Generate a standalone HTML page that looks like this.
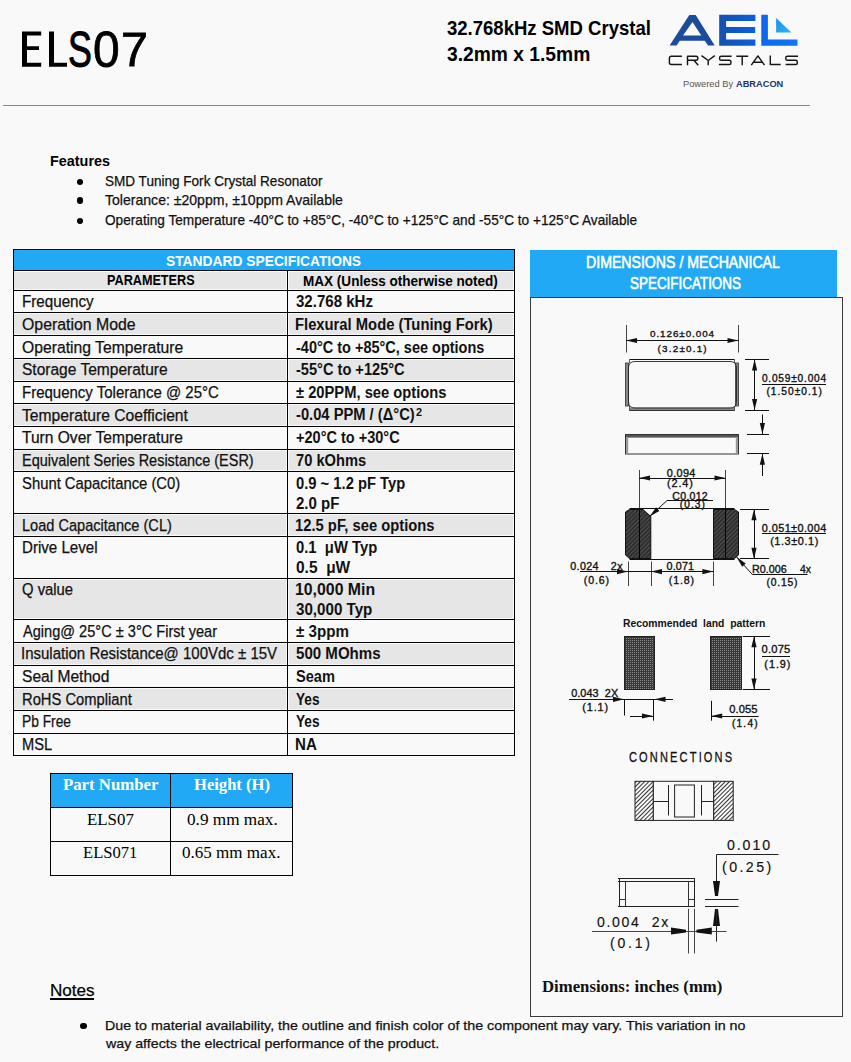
<!DOCTYPE html>
<html><head><meta charset="utf-8"><style>
html,body{margin:0;padding:0;}
body{width:851px;height:1062px;background:#f9f9f9;position:relative;overflow:hidden;font-family:"Liberation Sans", sans-serif;color:#000;}
.t{position:absolute;white-space:pre;transform-origin:0 0;}
.r{position:absolute;}
</style></head><body>
<svg class="r" style="left:0;top:0" width="160" height="80"><path d="M22,31.6 H41.2 V35.5 H27 V46.3 H39 V50.1 H27 V62.8 H41.2 V66.7 H22 Z M49,31.4 H54 V62.8 H67 V66.7 H49 Z" fill="#000"/></svg>
<div class="t" style="left:68.09px;top:24.55px;font-size:50.14px;line-height:50.14px;transform:scaleX(0.7145);-webkit-text-stroke:1.0px #000;">S</div>
<div class="t" style="left:93.08px;top:24.75px;font-size:50.14px;line-height:50.14px;transform:scaleX(0.9556);-webkit-text-stroke:0.8px #000;">0</div>
<div class="t" style="left:120.77px;top:24.58px;font-size:48.70px;line-height:48.70px;transform:scaleX(0.9974);-webkit-text-stroke:0.8px #000;">7</div>
<div class="t" style="left:447.14px;top:17.95px;font-size:20.14px;line-height:20.14px;font-weight:bold;transform:scaleX(0.9205);">32.768kHz SMD Crystal</div>
<div class="t" style="left:447.12px;top:44.05px;font-size:20.14px;line-height:20.14px;font-weight:bold;transform:scaleX(0.9557);">3.2mm x 1.5mm</div>
<div class="r" style="left:3px;top:105px;width:807px;height:1.4px;background:#1ea6f4;"></div>
<svg class="r" style="left:0;top:0" width="851" height="100"><path d="M681.9,56.2 H671.4 Q669.4,56.2 669.4,58.2 V62.5 Q669.4,64.5 671.4,64.5 H681.9 M687.5,65.2 V56.2 H696 Q697.8,56.2 697.8,58 V58.5 Q697.8,60.3 696,60.3 H687.5 M693.8,60.3 L698.3,65.2 M701.5,55.6 L708.2,60.5 L714.8,55.6 M708.2,60.5 V65.2 M731.6,56.2 H721.2 Q719.6,56.2 719.6,57.8 V58.7 Q719.6,60.3 721.2,60.3 H729.3 Q730.9,60.3 730.9,61.9 V62.9 Q730.9,64.5 729.3,64.5 H718.9 M736.3,56.2 H748.2 M742.2,56.2 V65.2 M751.3,65.2 L757.9,55.9 L764.5,65.2 M753.6,62.2 H762.2 M770.3,55.5 V64.5 H780.7 M798,56.2 H787.4 Q785.8,56.2 785.8,57.8 V58.7 Q785.8,60.3 787.4,60.3 H795.7 Q797.3,60.3 797.3,61.9 V62.9 Q797.3,64.5 795.7,64.5 H785.6" fill="none" stroke="#161616" stroke-width="1.45" stroke-linejoin="round"/></svg>
<div class="t" style="left:683.16px;top:79.52px;font-size:8.84px;line-height:8.84px;color:#555;transform:scaleX(1.0523);">Powered By</div>
<div class="t" style="left:736.37px;top:79.52px;font-size:8.84px;line-height:8.84px;font-weight:bold;color:#1e3466;transform:scaleX(1.0478);">ABRACON</div>
<div class="t" style="left:49.76px;top:153.68px;font-size:14.20px;line-height:14.20px;font-weight:bold;transform:scaleX(1.0145);">Features</div>
<div class="r" style="left:77.3px;top:178.6px;width:6.2px;height:6.2px;border-radius:50%;background:#000"></div>
<div class="r" style="left:77.3px;top:197.4px;width:6.2px;height:6.2px;border-radius:50%;background:#000"></div>
<div class="r" style="left:77.3px;top:217.7px;width:6.2px;height:6.2px;border-radius:50%;background:#000"></div>
<div class="t" style="left:104.79px;top:174.28px;font-size:14.20px;line-height:14.20px;color:#111;transform:scaleX(0.9549);-webkit-text-stroke:0.25px #111;">SMD Tuning Fork Crystal Resonator</div>
<div class="t" style="left:105.12px;top:193.08px;font-size:14.20px;line-height:14.20px;color:#111;transform:scaleX(0.9909);-webkit-text-stroke:0.25px #111;">Tolerance: ±20ppm, ±10ppm Available</div>
<div class="t" style="left:104.79px;top:212.58px;font-size:14.20px;line-height:14.20px;color:#111;transform:scaleX(0.9611);-webkit-text-stroke:0.25px #111;">Operating Temperature -40°C to +85°C, -40°C to +125°C and -55°C to +125°C Available</div>
<div class="r" style="left:13px;top:249px;width:502px;height:21px;background:#21a9f5;"></div>
<div class="r" style="left:14px;top:272px;width:272px;height:17px;background:#e6e6e6;"></div>
<div class="r" style="left:289px;top:272px;width:224px;height:17px;background:#e6e6e6;"></div>
<div class="r" style="left:14px;top:314px;width:272px;height:20px;background:#e6e6e6;"></div>
<div class="r" style="left:289px;top:314px;width:224px;height:20px;background:#e6e6e6;"></div>
<div class="r" style="left:14px;top:360px;width:272px;height:20px;background:#e6e6e6;"></div>
<div class="r" style="left:289px;top:360px;width:224px;height:20px;background:#e6e6e6;"></div>
<div class="r" style="left:14px;top:405px;width:272px;height:20px;background:#e6e6e6;"></div>
<div class="r" style="left:289px;top:405px;width:224px;height:20px;background:#e6e6e6;"></div>
<div class="r" style="left:14px;top:451px;width:272px;height:19px;background:#e6e6e6;"></div>
<div class="r" style="left:289px;top:451px;width:224px;height:19px;background:#e6e6e6;"></div>
<div class="r" style="left:14px;top:515px;width:272px;height:20px;background:#e6e6e6;"></div>
<div class="r" style="left:289px;top:515px;width:224px;height:20px;background:#e6e6e6;"></div>
<div class="r" style="left:14px;top:580px;width:272px;height:38px;background:#e6e6e6;"></div>
<div class="r" style="left:289px;top:580px;width:224px;height:38px;background:#e6e6e6;"></div>
<div class="r" style="left:14px;top:644px;width:272px;height:20px;background:#e6e6e6;"></div>
<div class="r" style="left:289px;top:644px;width:224px;height:20px;background:#e6e6e6;"></div>
<div class="r" style="left:14px;top:689px;width:272px;height:20px;background:#e6e6e6;"></div>
<div class="r" style="left:289px;top:689px;width:224px;height:20px;background:#e6e6e6;"></div>
<div class="r" style="left:13px;top:249px;width:502px;height:1px;background:#000;"></div>
<div class="r" style="left:13px;top:270px;width:502px;height:1px;background:#000;"></div>
<div class="r" style="left:13px;top:290px;width:502px;height:1px;background:#000;"></div>
<div class="r" style="left:13px;top:312px;width:502px;height:1px;background:#000;"></div>
<div class="r" style="left:13px;top:335px;width:502px;height:1px;background:#000;"></div>
<div class="r" style="left:13px;top:358px;width:502px;height:1px;background:#000;"></div>
<div class="r" style="left:13px;top:381px;width:502px;height:1px;background:#000;"></div>
<div class="r" style="left:13px;top:403px;width:502px;height:1px;background:#000;"></div>
<div class="r" style="left:13px;top:426px;width:502px;height:1px;background:#000;"></div>
<div class="r" style="left:13px;top:449px;width:502px;height:1px;background:#000;"></div>
<div class="r" style="left:13px;top:471px;width:502px;height:1px;background:#000;"></div>
<div class="r" style="left:13px;top:513px;width:502px;height:1px;background:#000;"></div>
<div class="r" style="left:13px;top:536px;width:502px;height:1px;background:#000;"></div>
<div class="r" style="left:13px;top:578px;width:502px;height:1px;background:#000;"></div>
<div class="r" style="left:13px;top:619px;width:502px;height:1px;background:#000;"></div>
<div class="r" style="left:13px;top:642px;width:502px;height:1px;background:#000;"></div>
<div class="r" style="left:13px;top:665px;width:502px;height:1px;background:#000;"></div>
<div class="r" style="left:13px;top:687px;width:502px;height:1px;background:#000;"></div>
<div class="r" style="left:13px;top:710px;width:502px;height:1px;background:#000;"></div>
<div class="r" style="left:13px;top:733px;width:502px;height:1px;background:#000;"></div>
<div class="r" style="left:13px;top:755px;width:502px;height:1px;background:#000;"></div>
<div class="r" style="left:13px;top:249px;width:1px;height:507px;background:#000;"></div>
<div class="r" style="left:514px;top:249px;width:1px;height:507px;background:#000;"></div>
<div class="r" style="left:287px;top:270px;width:1px;height:486px;background:#000;"></div>
<div class="t" style="left:165.79px;top:252.80px;font-size:15.36px;line-height:15.36px;font-weight:bold;color:#fff;transform:scaleX(0.8988);">STANDARD SPECIFICATIONS</div>
<div class="t" style="left:106.78px;top:273.49px;font-size:14.78px;line-height:14.78px;font-weight:bold;transform:scaleX(0.8564);">PARAMETERS</div>
<div class="t" style="left:303.32px;top:273.99px;font-size:14.78px;line-height:14.78px;font-weight:bold;transform:scaleX(0.9171);">MAX (Unless otherwise noted)</div>
<div class="t" style="left:21.59px;top:294.11px;font-size:15.94px;line-height:15.94px;color:#111;transform:scaleX(0.9521);-webkit-text-stroke:0.25px #111;">Frequency</div>
<div class="t" style="left:22.09px;top:316.71px;font-size:15.94px;line-height:15.94px;color:#111;transform:scaleX(0.9941);-webkit-text-stroke:0.25px #111;">Operation Mode</div>
<div class="t" style="left:22.09px;top:339.51px;font-size:15.94px;line-height:15.94px;color:#111;transform:scaleX(0.9858);-webkit-text-stroke:0.25px #111;">Operating Temperature</div>
<div class="t" style="left:22.10px;top:361.51px;font-size:15.94px;line-height:15.94px;color:#111;transform:scaleX(0.9742);-webkit-text-stroke:0.25px #111;">Storage Temperature</div>
<div class="t" style="left:21.60px;top:384.51px;font-size:15.94px;line-height:15.94px;color:#111;transform:scaleX(0.9412);-webkit-text-stroke:0.25px #111;">Frequency Tolerance @ 25°C</div>
<div class="t" style="left:22.49px;top:407.51px;font-size:15.94px;line-height:15.94px;color:#111;transform:scaleX(0.9822);-webkit-text-stroke:0.25px #111;">Temperature Coefficient</div>
<div class="t" style="left:22.49px;top:429.71px;font-size:15.94px;line-height:15.94px;color:#111;transform:scaleX(0.9766);-webkit-text-stroke:0.25px #111;">Turn Over Temperature</div>
<div class="t" style="left:21.64px;top:452.71px;font-size:15.94px;line-height:15.94px;color:#111;transform:scaleX(0.9082);-webkit-text-stroke:0.25px #111;">Equivalent Series Resistance (ESR)</div>
<div class="t" style="left:22.13px;top:475.51px;font-size:15.94px;line-height:15.94px;color:#111;transform:scaleX(0.9304);-webkit-text-stroke:0.25px #111;">Shunt Capacitance (C0)</div>
<div class="t" style="left:21.63px;top:517.51px;font-size:15.94px;line-height:15.94px;color:#111;transform:scaleX(0.9143);-webkit-text-stroke:0.25px #111;">Load Capacitance (CL)</div>
<div class="t" style="left:21.59px;top:539.71px;font-size:15.94px;line-height:15.94px;color:#111;transform:scaleX(0.9483);-webkit-text-stroke:0.25px #111;">Drive Level</div>
<div class="t" style="left:22.13px;top:581.71px;font-size:15.94px;line-height:15.94px;color:#111;transform:scaleX(0.9292);-webkit-text-stroke:0.25px #111;">Q value</div>
<div class="t" style="left:22.80px;top:623.71px;font-size:15.94px;line-height:15.94px;color:#111;transform:scaleX(0.9144);-webkit-text-stroke:0.25px #111;">Aging@ 25°C ± 3°C First year</div>
<div class="t" style="left:21.45px;top:646.21px;font-size:15.94px;line-height:15.94px;color:#111;transform:scaleX(0.9412);-webkit-text-stroke:0.25px #111;">Insulation Resistance@ 100Vdc ± 15V</div>
<div class="t" style="left:22.10px;top:668.71px;font-size:15.94px;line-height:15.94px;color:#111;transform:scaleX(0.9765);-webkit-text-stroke:0.25px #111;">Seal Method</div>
<div class="t" style="left:21.62px;top:691.71px;font-size:15.94px;line-height:15.94px;color:#111;transform:scaleX(0.9247);-webkit-text-stroke:0.25px #111;">RoHS Compliant</div>
<div class="t" style="left:21.70px;top:713.71px;font-size:15.94px;line-height:15.94px;color:#111;transform:scaleX(0.8632);-webkit-text-stroke:0.25px #111;">Pb Free</div>
<div class="t" style="left:21.63px;top:736.81px;font-size:15.94px;line-height:15.94px;color:#111;transform:scaleX(0.9191);-webkit-text-stroke:0.25px #111;">MSL</div>
<div class="t" style="left:295.92px;top:294.11px;font-size:15.94px;line-height:15.94px;font-weight:bold;color:#111;transform:scaleX(0.9443);">32.768 kHz</div>
<div class="t" style="left:295.34px;top:316.71px;font-size:15.94px;line-height:15.94px;font-weight:bold;color:#111;transform:scaleX(0.9275);">Flexural Mode (Tuning Fork)</div>
<div class="t" style="left:295.72px;top:339.51px;font-size:15.94px;line-height:15.94px;font-weight:bold;color:#111;transform:scaleX(0.9092);">-40°C to +85°C, see options</div>
<div class="t" style="left:295.72px;top:361.51px;font-size:15.94px;line-height:15.94px;font-weight:bold;color:#111;transform:scaleX(0.9160);">-55°C to +125°C</div>
<div class="t" style="left:295.93px;top:384.51px;font-size:15.94px;line-height:15.94px;font-weight:bold;color:#111;transform:scaleX(0.9239);">± 20PPM, see options</div>
<div class="t" style="left:295.71px;top:407.11px;font-size:15.94px;line-height:15.94px;font-weight:bold;color:#111;transform:scaleX(0.9234);">-0.04 PPM / (Δ°C)</div>
<div class="t" style="left:295.72px;top:429.71px;font-size:15.94px;line-height:15.94px;font-weight:bold;color:#111;transform:scaleX(0.9112);">+20°C to +30°C</div>
<div class="t" style="left:295.71px;top:452.71px;font-size:15.94px;line-height:15.94px;font-weight:bold;color:#111;transform:scaleX(0.9209);">70 kOhms</div>
<div class="t" style="left:295.71px;top:475.51px;font-size:15.94px;line-height:15.94px;font-weight:bold;color:#111;transform:scaleX(0.9263);">0.9 ~ 1.2 pF Typ</div>
<div class="t" style="left:295.77px;top:495.51px;font-size:15.94px;line-height:15.94px;font-weight:bold;color:#111;transform:scaleX(0.9431);">2.0 pF</div>
<div class="t" style="left:295.41px;top:517.51px;font-size:15.94px;line-height:15.94px;font-weight:bold;color:#111;transform:scaleX(0.9270);">12.5 pF, see options</div>
<div class="t" style="left:295.71px;top:539.71px;font-size:15.94px;line-height:15.94px;font-weight:bold;color:#111;transform:scaleX(0.9293);">0.1  μW Typ</div>
<div class="t" style="left:295.68px;top:560.01px;font-size:15.94px;line-height:15.94px;font-weight:bold;color:#111;transform:scaleX(0.9721);">0.5  μW</div>
<div class="t" style="left:295.35px;top:581.71px;font-size:15.94px;line-height:15.94px;font-weight:bold;color:#111;transform:scaleX(0.9940);">10,000 Min</div>
<div class="t" style="left:295.92px;top:601.71px;font-size:15.94px;line-height:15.94px;font-weight:bold;color:#111;transform:scaleX(0.9507);">30,000 Typ</div>
<div class="t" style="left:295.92px;top:623.71px;font-size:15.94px;line-height:15.94px;font-weight:bold;color:#111;transform:scaleX(0.9510);">± 3ppm</div>
<div class="t" style="left:295.85px;top:646.21px;font-size:15.94px;line-height:15.94px;font-weight:bold;color:#111;transform:scaleX(0.9454);">500 MOhms</div>
<div class="t" style="left:295.86px;top:668.71px;font-size:15.94px;line-height:15.94px;font-weight:bold;color:#111;transform:scaleX(0.9166);">Seam</div>
<div class="t" style="left:296.03px;top:691.71px;font-size:15.94px;line-height:15.94px;font-weight:bold;color:#111;transform:scaleX(0.8552);">Yes</div>
<div class="t" style="left:296.03px;top:713.71px;font-size:15.94px;line-height:15.94px;font-weight:bold;color:#111;transform:scaleX(0.8552);">Yes</div>
<div class="t" style="left:295.32px;top:736.81px;font-size:15.94px;line-height:15.94px;font-weight:bold;color:#111;transform:scaleX(0.9479);">NA</div>
<div class="t" style="left:415.62px;top:407.79px;font-size:10.29px;line-height:10.29px;font-weight:bold;color:#111;transform:scaleX(1.0528);">2</div>
<div class="r" style="left:50px;top:773px;width:243px;height:34px;background:#21a9f5;"></div>
<div class="r" style="left:50px;top:773px;width:243px;height:1px;background:#000;"></div>
<div class="r" style="left:50px;top:807px;width:243px;height:1px;background:#000;"></div>
<div class="r" style="left:50px;top:841px;width:243px;height:1px;background:#000;"></div>
<div class="r" style="left:50px;top:875px;width:243px;height:1px;background:#000;"></div>
<div class="r" style="left:50px;top:773px;width:1px;height:103px;background:#000;"></div>
<div class="r" style="left:292px;top:773px;width:1px;height:103px;background:#000;"></div>
<div class="r" style="left:170px;top:773px;width:1px;height:103px;background:#000;"></div>
<div class="t" style="left:63.15px;top:775.77px;font-size:17.71px;line-height:17.71px;font-weight:bold;font-family:'Liberation Serif', serif;color:#fff;transform:scaleX(0.9477);">Part Number</div>
<div class="t" style="left:193.65px;top:775.97px;font-size:17.71px;line-height:17.71px;font-weight:bold;font-family:'Liberation Serif', serif;color:#fff;transform:scaleX(0.9371);">Height (H)</div>
<div class="t" style="left:86.79px;top:810.52px;font-size:17.40px;line-height:17.40px;font-family:'Liberation Serif', serif;transform:scaleX(0.9696);">ELS07</div>
<div class="t" style="left:186.81px;top:810.52px;font-size:17.40px;line-height:17.40px;font-family:'Liberation Serif', serif;transform:scaleX(0.9880);">0.9 mm max.</div>
<div class="t" style="left:82.90px;top:844.32px;font-size:17.40px;line-height:17.40px;font-family:'Liberation Serif', serif;transform:scaleX(0.9546);">ELS071</div>
<div class="t" style="left:182.12px;top:844.32px;font-size:17.40px;line-height:17.40px;font-family:'Liberation Serif', serif;transform:scaleX(0.9799);">0.65 mm max.</div>
<div class="t" style="left:49.63px;top:981.64px;font-size:16.38px;line-height:16.38px;transform:scaleX(1.0450);-webkit-text-stroke:0.25px #111;">Notes</div>
<div class="r" style="left:50px;top:998px;width:44px;height:1.8px;background:#000;"></div>
<div class="r" style="left:80.4px;top:1022.5px;width:6.2px;height:6.2px;border-radius:50%;background:#000"></div>
<div class="t" style="left:104.76px;top:1019.27px;font-size:13.62px;line-height:13.62px;color:#111;transform:scaleX(1.0465);-webkit-text-stroke:0.25px #111;">Due to material availability, the outline and finish color of the component may vary. This variation in no</div>
<div class="t" style="left:105.90px;top:1037.07px;font-size:13.62px;line-height:13.62px;color:#111;transform:scaleX(1.0442);-webkit-text-stroke:0.25px #111;">way affects the electrical performance of the product.</div>
<div class="r" style="left:530px;top:250px;width:307px;height:47px;background:#21a9f5;"></div>
<div class="r" style="left:530px;top:296.5px;width:313px;height:720.5px;border:1.5px solid #3a3a3a;box-sizing:border-box;"></div>
<div class="t" style="left:586.27px;top:254.06px;font-size:16.23px;line-height:16.23px;color:#fff;transform:scaleX(0.8711);-webkit-text-stroke:0.6px #fff;">DIMENSIONS / MECHANICAL</div>
<div class="t" style="left:630.00px;top:276.11px;font-size:15.94px;line-height:15.94px;color:#fff;transform:scaleX(0.8430);-webkit-text-stroke:0.6px #fff;">SPECIFICATIONS</div>
<div class="t" style="left:542.35px;top:977.75px;font-size:17.25px;line-height:17.25px;font-weight:bold;font-family:'Liberation Serif', serif;color:#111;transform:scaleX(0.9700);">Dimensions: inches (mm)</div>
<div class="t" style="left:650.01px;top:329.46px;font-size:9.86px;line-height:9.86px;color:#111;letter-spacing:0.934px;-webkit-text-stroke:0.35px #111;">0.126±0.004</div>
<div class="t" style="left:657.61px;top:343.66px;font-size:9.86px;line-height:9.86px;color:#111;letter-spacing:1.208px;-webkit-text-stroke:0.35px #111;">(3.2±0.1)</div>
<div class="t" style="left:761.89px;top:373.81px;font-size:10.14px;line-height:10.14px;color:#111;letter-spacing:0.806px;-webkit-text-stroke:0.35px #111;">0.059±0.004</div>
<div class="t" style="left:766.39px;top:386.91px;font-size:10.14px;line-height:10.14px;color:#111;letter-spacing:1.051px;-webkit-text-stroke:0.35px #111;">(1.50±0.1)</div>
<div class="t" style="left:666.87px;top:467.70px;font-size:10.87px;line-height:10.87px;color:#111;letter-spacing:0.322px;-webkit-text-stroke:0.35px #111;">0.094</div>
<div class="t" style="left:667.05px;top:478.10px;font-size:10.87px;line-height:10.87px;color:#111;letter-spacing:0.867px;-webkit-text-stroke:0.35px #111;">(2.4)</div>
<div class="t" style="left:672.37px;top:491.04px;font-size:10.58px;line-height:10.58px;color:#111;letter-spacing:0.248px;-webkit-text-stroke:0.35px #111;">C0.012</div>
<div class="t" style="left:679.79px;top:500.31px;font-size:10.14px;line-height:10.14px;color:#111;letter-spacing:1.092px;-webkit-text-stroke:0.35px #111;">(0.3)</div>
<div class="t" style="left:761.87px;top:522.70px;font-size:10.87px;line-height:10.87px;color:#111;letter-spacing:0.408px;-webkit-text-stroke:0.35px #111;">0.051±0.004</div>
<div class="t" style="left:770.15px;top:536.10px;font-size:10.87px;line-height:10.87px;color:#111;letter-spacing:0.592px;-webkit-text-stroke:0.35px #111;">(1.3±0.1)</div>
<div class="t" style="left:570.27px;top:560.72px;font-size:10.72px;line-height:10.72px;color:#111;letter-spacing:0.360px;-webkit-text-stroke:0.35px #111;">0.024</div>
<div class="t" style="left:610.76px;top:560.72px;font-size:10.72px;line-height:10.72px;color:#111;letter-spacing:0.629px;-webkit-text-stroke:0.35px #111;">2x</div>
<div class="t" style="left:583.77px;top:574.54px;font-size:10.58px;line-height:10.58px;color:#111;letter-spacing:0.857px;-webkit-text-stroke:0.35px #111;">(0.6)</div>
<div class="t" style="left:666.57px;top:560.92px;font-size:10.72px;line-height:10.72px;color:#111;letter-spacing:0.150px;-webkit-text-stroke:0.35px #111;">0.071</div>
<div class="t" style="left:668.77px;top:574.54px;font-size:10.58px;line-height:10.58px;color:#111;letter-spacing:0.907px;-webkit-text-stroke:0.35px #111;">(1.8)</div>
<div class="t" style="left:751.64px;top:564.38px;font-size:11.01px;line-height:11.01px;color:#111;transform:scaleX(0.9795);-webkit-text-stroke:0.35px #111;">R0.006</div>
<div class="t" style="left:799.59px;top:564.38px;font-size:11.01px;line-height:11.01px;color:#111;transform:scaleX(0.9478);-webkit-text-stroke:0.35px #111;">4x</div>
<div class="t" style="left:766.38px;top:578.19px;font-size:10.29px;line-height:10.29px;color:#111;letter-spacing:0.836px;-webkit-text-stroke:0.35px #111;">(0.15)</div>
<div class="t" style="left:622.83px;top:618.19px;font-size:11.59px;line-height:11.59px;font-weight:bold;color:#111;transform:scaleX(0.8955);">Recommended  land  pattern</div>
<div class="t" style="left:761.55px;top:644.05px;font-size:11.16px;line-height:11.16px;color:#111;letter-spacing:0.199px;-webkit-text-stroke:0.35px #111;">0.075</div>
<div class="t" style="left:764.35px;top:658.80px;font-size:10.87px;line-height:10.87px;color:#111;letter-spacing:0.942px;-webkit-text-stroke:0.35px #111;">(1.9)</div>
<div class="t" style="left:571.17px;top:687.80px;font-size:10.87px;line-height:10.87px;color:#111;letter-spacing:0.066px;-webkit-text-stroke:0.35px #111;">0.043  2X</div>
<div class="t" style="left:582.35px;top:702.30px;font-size:10.87px;line-height:10.87px;color:#111;letter-spacing:0.842px;-webkit-text-stroke:0.35px #111;">(1.1)</div>
<div class="t" style="left:729.15px;top:704.25px;font-size:11.16px;line-height:11.16px;color:#111;letter-spacing:0.099px;-webkit-text-stroke:0.35px #111;">0.055</div>
<div class="t" style="left:731.99px;top:719.41px;font-size:10.14px;line-height:10.14px;color:#111;letter-spacing:1.192px;-webkit-text-stroke:0.35px #111;">(1.4)</div>
<div class="t" style="left:629.15px;top:748.60px;font-size:15.36px;line-height:15.36px;color:#111;letter-spacing:2.968px;transform:scaleX(0.7200);-webkit-text-stroke:0.3px #111;">CONNECTIONS</div>
<div class="t" style="left:727.43px;top:838.31px;font-size:14.64px;line-height:14.64px;color:#111;letter-spacing:1.951px;transform:scaleX(0.9700);-webkit-text-stroke:0.15px #111;">0.010</div>
<div class="t" style="left:721.65px;top:859.61px;font-size:14.64px;line-height:14.64px;color:#111;letter-spacing:2.504px;transform:scaleX(0.9700);-webkit-text-stroke:0.15px #111;">(0.25)</div>
<div class="t" style="left:597.44px;top:914.73px;font-size:14.49px;line-height:14.49px;color:#111;letter-spacing:1.721px;transform:scaleX(0.9700);-webkit-text-stroke:0.15px #111;">0.004  2x</div>
<div class="t" style="left:609.56px;top:936.23px;font-size:14.49px;line-height:14.49px;color:#111;letter-spacing:2.834px;transform:scaleX(0.9700);-webkit-text-stroke:0.15px #111;">(0.1)</div>
<svg class="r" style="left:0;top:0" width="851" height="1062" viewBox="0 0 851 1062"><defs>
<pattern id="hatch" patternUnits="userSpaceOnUse" width="3" height="3" patternTransform="rotate(-45)">
<rect width="3" height="3" fill="#2e2e2e"/><rect width="3" height="0.9" fill="#555"/></pattern>
<pattern id="hatch2" patternUnits="userSpaceOnUse" width="3" height="3" patternTransform="rotate(-45)">
<rect width="3" height="3" fill="#f9f9f9"/><rect width="3" height="1" fill="#333"/></pattern>
<pattern id="dots" patternUnits="userSpaceOnUse" width="2" height="2">
<rect width="2" height="2" fill="#383838"/><rect x="0" y="0" width="1" height="1" fill="#8a8a8a"/></pattern>
<linearGradient id="gE" x1="0" y1="0" x2="1" y2="0"><stop offset="0" stop-color="#1450b0"/><stop offset="1" stop-color="#0b5fdc"/></linearGradient>
<linearGradient id="gL" x1="0" y1="0" x2="1" y2="0"><stop offset="0" stop-color="#0a68ee"/><stop offset="1" stop-color="#1075f5"/></linearGradient>
<linearGradient id="gT" x1="0" y1="0" x2="1" y2="1"><stop offset="0" stop-color="#1c8fe8"/><stop offset="1" stop-color="#2db4f2"/></linearGradient>
</defs><line x1="626.5" y1="325" x2="626.5" y2="352.5" stroke="#444" stroke-width="1" />
<line x1="738.5" y1="325" x2="738.5" y2="352.5" stroke="#444" stroke-width="1" />
<line x1="626" y1="340.5" x2="738.5" y2="340.5" stroke="#111" stroke-width="1" />
<polygon points="626.0,340.5 637.0,337.9 637.0,343.1" fill="#111"/>
<polygon points="738.5,340.5 727.5,337.9 727.5,343.1" fill="#111"/>
<rect x="625.5" y="363" width="3" height="43" fill="#888" stroke="#333" stroke-width="0.8"/>
<rect x="735.6" y="363" width="3" height="43" fill="#888" stroke="#333" stroke-width="0.8"/>
<rect x="629.5" y="407.6" width="105" height="2.8" fill="#888"/>
<line x1="629.5" y1="359.5" x2="734.5" y2="359.5" stroke="#111" stroke-width="1" />
<line x1="629.5" y1="410.5" x2="734.5" y2="410.5" stroke="#333" stroke-width="1" />
<path d="M629.5,359.5 V363 M734.5,359.5 V363 M629.5,410.5 V406 M734.5,410.5 V406" fill="none" stroke="#333" stroke-width="0.8" />
<path d="M635,361.5 L730,361.5 Q736.5,361.5 736.5,368 L736.5,401.5 Q736.5,408 730,408 L635,408 Q628.5,408 628.5,401.5 L628.5,368 Q628.5,361.5 635,361.5 Z" fill="none" stroke="#222" stroke-width="0.9" />
<line x1="745" y1="359.5" x2="769" y2="359.5" stroke="#111" stroke-width="1" />
<line x1="745" y1="410.5" x2="769" y2="410.5" stroke="#111" stroke-width="1" />
<line x1="754.5" y1="359.5" x2="754.5" y2="410" stroke="#111" stroke-width="1" />
<polygon points="754.6,359.5 752.0,370.5 757.2,370.5" fill="#111"/>
<polygon points="754.6,410.0 752.0,399.0 757.2,399.0" fill="#111"/>
<line x1="762" y1="384.5" x2="826" y2="384.5" stroke="#111" stroke-width="1" />
<rect x="625.5" y="434.5" width="113" height="19.5" fill="none" stroke="#333" stroke-width="1"/>
<rect x="626" y="435" width="112" height="2.6" fill="#555"/>
<rect x="626" y="437.5" width="2.2" height="16" fill="#999"/>
<rect x="735.8" y="437.5" width="2.2" height="16" fill="#999"/>
<line x1="762.5" y1="414.5" x2="762.5" y2="434" stroke="#111" stroke-width="1" />
<polygon points="762.4,434.0 759.8,423.0 765.0,423.0" fill="#111"/>
<line x1="747" y1="434.5" x2="769" y2="434.5" stroke="#111" stroke-width="1" />
<line x1="747" y1="453.5" x2="769" y2="453.5" stroke="#111" stroke-width="1" />
<line x1="762.5" y1="453.7" x2="762.5" y2="476" stroke="#111" stroke-width="1" />
<polygon points="762.4,453.7 759.8,464.7 765.0,464.7" fill="#111"/>
<line x1="639.5" y1="470" x2="639.5" y2="509" stroke="#444" stroke-width="1" />
<line x1="725.5" y1="470" x2="725.5" y2="509" stroke="#444" stroke-width="1" />
<line x1="639" y1="478.5" x2="725.5" y2="478.5" stroke="#111" stroke-width="1" />
<polygon points="639.0,478.0 650.0,475.4 650.0,480.6" fill="#111"/>
<polygon points="725.5,478.0 714.5,475.4 714.5,480.6" fill="#111"/>
<line x1="629.5" y1="508.5" x2="734.5" y2="508.5" stroke="#111" stroke-width="1" />
<line x1="629.5" y1="559.5" x2="734.5" y2="559.5" stroke="#111" stroke-width="1" />
<path d="M625.5,512 L629.5,509.5 L643,509.5 L650.8,516.5 L650.8,558.5 L629.5,558.5 L625.5,555 Z" fill="url(#hatch)" stroke="#111" stroke-width="1" />
<path d="M713.5,509.5 L734.5,509.5 L738.5,512 L738.5,555 L734.5,558.5 L713.5,558.5 Z" fill="url(#hatch)" stroke="#111" stroke-width="1" />
<line x1="639.5" y1="509" x2="639.5" y2="558.5" stroke="#000" stroke-width="1" />
<line x1="725.5" y1="509" x2="725.5" y2="558.5" stroke="#000" stroke-width="1" />
<line x1="649.6" y1="516.5" x2="667" y2="500.6" stroke="#111" stroke-width="1" />
<line x1="667" y1="500.5" x2="713" y2="500.5" stroke="#111" stroke-width="1" />
<polygon points="649.6,516.5 659.3,510.9 656.1,507.3" fill="#111"/>
<line x1="740" y1="509.5" x2="769" y2="509.5" stroke="#111" stroke-width="1" />
<line x1="740" y1="558.5" x2="769" y2="558.5" stroke="#111" stroke-width="1" />
<line x1="754.5" y1="509.3" x2="754.5" y2="558.8" stroke="#111" stroke-width="1" />
<polygon points="754.0,509.3 751.4,520.3 756.6,520.3" fill="#111"/>
<polygon points="754.0,558.8 751.4,547.8 756.6,547.8" fill="#111"/>
<line x1="762" y1="533.5" x2="826" y2="533.5" stroke="#111" stroke-width="1" />
<line x1="628.5" y1="561.5" x2="628.5" y2="586" stroke="#444" stroke-width="1" />
<line x1="651.5" y1="561.5" x2="651.5" y2="586" stroke="#444" stroke-width="1" />
<line x1="713.5" y1="561.5" x2="713.5" y2="586" stroke="#444" stroke-width="1" />
<line x1="580" y1="571.5" x2="713.4" y2="571.5" stroke="#111" stroke-width="1" />
<polygon points="628.0,571.6 617.0,569.0 617.0,574.2" fill="#111"/>
<polygon points="651.0,571.6 662.0,569.0 662.0,574.2" fill="#111"/>
<polygon points="713.4,571.6 702.4,569.0 702.4,574.2" fill="#111"/>
<line x1="736.6" y1="557" x2="752.5" y2="574.7" stroke="#111" stroke-width="1" />
<line x1="752.5" y1="574.5" x2="807.5" y2="574.5" stroke="#111" stroke-width="1" />
<polygon points="736.6,557.0 742.2,566.8 745.7,563.6" fill="#111"/>
<rect x="624.5" y="636.5" width="30" height="53" fill="url(#dots)" stroke="#222" stroke-width="1"/>
<rect x="710.5" y="636.5" width="31" height="53" fill="url(#dots)" stroke="#222" stroke-width="1"/>
<line x1="742.7" y1="636.5" x2="770" y2="636.5" stroke="#111" stroke-width="1" />
<line x1="742.7" y1="689.5" x2="770" y2="689.5" stroke="#111" stroke-width="1" />
<line x1="754.5" y1="636.3" x2="754.5" y2="689.5" stroke="#111" stroke-width="1" />
<polygon points="754.0,636.3 751.4,647.3 756.6,647.3" fill="#111"/>
<polygon points="754.0,689.5 751.4,678.5 756.6,678.5" fill="#111"/>
<line x1="762" y1="656.5" x2="790" y2="656.5" stroke="#111" stroke-width="1" />
<line x1="569" y1="699.5" x2="673" y2="699.5" stroke="#111" stroke-width="1" />
<polygon points="624.0,699.3 613.0,696.7 613.0,701.9" fill="#111"/>
<polygon points="654.5,699.3 665.5,696.7 665.5,701.9" fill="#111"/>
<line x1="624.5" y1="699.3" x2="624.5" y2="715.5" stroke="#111" stroke-width="1" />
<line x1="653.5" y1="699.3" x2="653.5" y2="720.7" stroke="#111" stroke-width="1" />
<line x1="630" y1="716.5" x2="653" y2="716.5" stroke="#111" stroke-width="1" />
<polygon points="653.0,716.0 642.0,713.4 642.0,718.6" fill="#111"/>
<line x1="711.5" y1="700.8" x2="711.5" y2="720.7" stroke="#111" stroke-width="1" />
<line x1="711.2" y1="716.5" x2="758.6" y2="716.5" stroke="#111" stroke-width="1" />
<polygon points="711.2,716.0 722.2,713.4 722.2,718.6" fill="#111"/>
<rect x="653.2" y="781.3" width="60.5" height="39.1" fill="none" stroke="#222" stroke-width="1"/>
<rect x="635" y="781.3" width="18.2" height="39.1" fill="url(#hatch2)" stroke="#222" stroke-width="1"/>
<rect x="713.7" y="781.3" width="19.5" height="39.1" fill="url(#hatch2)" stroke="#222" stroke-width="1"/>
<line x1="653.2" y1="801.5" x2="668.5" y2="801.5" stroke="#222" stroke-width="1" />
<line x1="701" y1="801.5" x2="713.7" y2="801.5" stroke="#222" stroke-width="1" />
<line x1="668.5" y1="785" x2="668.5" y2="815.5" stroke="#222" stroke-width="1" />
<line x1="701.5" y1="785" x2="701.5" y2="815.5" stroke="#222" stroke-width="1" />
<rect x="674.6" y="785" width="19.8" height="32" fill="none" stroke="#222" stroke-width="1"/>
<line x1="618" y1="878.5" x2="695" y2="878.5" stroke="#222" stroke-width="1" />
<line x1="618" y1="881.5" x2="695" y2="881.5" stroke="#222" stroke-width="1" />
<line x1="618" y1="906.5" x2="695" y2="906.5" stroke="#222" stroke-width="1" />
<line x1="619.5" y1="878" x2="619.5" y2="906.5" stroke="#222" stroke-width="1" />
<line x1="694.5" y1="878" x2="694.5" y2="906.5" stroke="#222" stroke-width="1" />
<line x1="625.5" y1="881" x2="625.5" y2="906" stroke="#333" stroke-width="1" />
<line x1="688.5" y1="881" x2="688.5" y2="906" stroke="#333" stroke-width="1" />
<line x1="619" y1="899.5" x2="625" y2="899.5" stroke="#333" stroke-width="1" />
<line x1="688" y1="899.5" x2="694" y2="899.5" stroke="#333" stroke-width="1" />
<line x1="716.4" y1="854.5" x2="778.5" y2="854.5" stroke="#222" stroke-width="1" />
<line x1="716.5" y1="854.7" x2="716.5" y2="896" stroke="#222" stroke-width="1" />
<polygon points="713.0,881.0 720.0,881.0 718.0,896.0 715.0,896.0" fill="#111"/>
<line x1="705" y1="899.5" x2="738.5" y2="899.5" stroke="#222" stroke-width="1" />
<line x1="705" y1="906.5" x2="738.5" y2="906.5" stroke="#222" stroke-width="1" />
<polygon points="715.0,909.0 718.0,909.0 720.0,926.0 713.0,926.0" fill="#111"/>
<line x1="716.5" y1="909" x2="716.5" y2="941.5" stroke="#222" stroke-width="1" />
<line x1="592" y1="931.5" x2="726.5" y2="931.5" stroke="#444" stroke-width="1" />
<polygon points="671.0,927.6 671.0,934.6 686.0,932.4 686.0,929.8" fill="#111"/>
<polygon points="711.8,927.6 711.8,934.6 696.5,932.4 696.5,929.8" fill="#111"/>
<line x1="688.5" y1="908.7" x2="688.5" y2="953.5" stroke="#444" stroke-width="1" />
<line x1="694.5" y1="908.7" x2="694.5" y2="953.5" stroke="#444" stroke-width="1" /><path d="M669.6,45.6 L689.3,15.1 L695.7,15.1 L714.7,45.6 L708,45.6 L704.8,40.7 L679.8,40.7 L676.6,45.6 Z M692.5,22 L683,35.4 L701.3,35.4 Z" fill="#1d4b9c" fill-rule="evenodd"/>
<path d="M719.2,14.8 L755.4,14.8 L755.4,21.0 L726.1,21.0 L726.1,26.9 L755.2,26.9 L755.2,33.0 L726.1,33.0 L726.1,39.5 L755.4,39.5 L755.4,45.7 L719.2,45.7 Z" fill="url(#gE)" />
<path d="M761.3,14.8 L767.9,14.8 L767.9,39.5 L797.5,39.5 L797.5,45.7 L761.3,45.7 Z" fill="url(#gL)" />
<path d="M776.1,17.9 L791.4,32.4 L776.1,32.4 Z" fill="url(#gT)" /></svg>
</body></html>
